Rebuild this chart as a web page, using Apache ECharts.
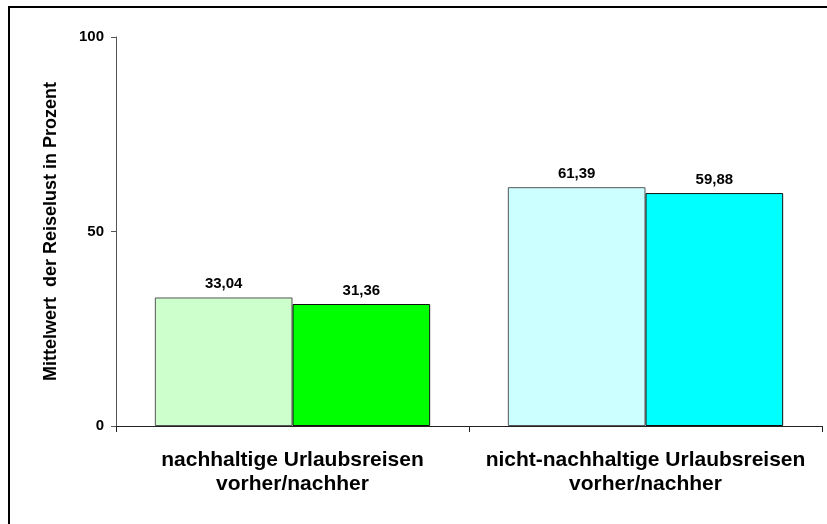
<!DOCTYPE html>
<html>
<head>
<meta charset="utf-8">
<script src="https://cdn.jsdelivr.net/npm/echarts@6/dist/echarts.min.js"></script>
<style>
html,body{margin:0;padding:0;background:#fff;}
#chart{width:827px;height:524px;}
</style>
</head>
<body>
<div id="chart"></div>
<script>
// Kategorien und Werte
var categories = ['nachhaltige Urlaubsreisen\nvorher/nachher', 'nicht-nachhaltige Urlaubsreisen\nvorher/nachher'];
var vorher = [33.04, 61.39];
var nachher = [31.36, 59.88];
var yTicks = [0, 50, 100];

var lightColors = ['#ccffcc', '#ccffff'];
var darkColors = ['#00ff00', '#00ffff'];

var chart = echarts.init(document.getElementById('chart'));

function fmt(p){
	return p.value.toFixed(2).replace('.', ',');
}

var labelStyle = {
	show: true,
	position: 'top',
	distance: 6,
	formatter: fmt,
	fontFamily: 'Liberation Sans',
	fontWeight: 'bold',
	fontSize: 15,
	color: '#000'
};

chart.setOption({
	animation: false,
	textStyle: {fontFamily: 'Liberation Sans'},
	graphic: [{
		type: 'rect',
		shape: {x: 9, y: 7, width: 900, height: 600},
		style: {fill: 'none', stroke: '#000', lineWidth: 2},
		silent: true
	}],
	grid: {left: 116, right: 5, top: 37, bottom: 98},
	xAxis: {
		type: 'category',
		data: categories,
		axisLine: {lineStyle: {color: '#222', width: 1}},
		axisTick: {show: true, interval: 0, length: 6, lineStyle: {color: '#222'}},
		axisLabel: {
			interval: 0,
			hideOverlap: false,
			color: '#000',
			fontWeight: 'bold',
			fontSize: 21,
			lineHeight: 24,
			margin: 22,
			fontFamily: 'Liberation Sans'
		}
	},
	yAxis: {
		type: 'value',
		min: 0,
		max: 100,
		interval: 50,
		name: 'Mittelwert  der Reiselust in Prozent',
		nameLocation: 'middle',
		nameGap: 56,
		nameTextStyle: {fontWeight: 'bold', fontSize: 18, color: '#000', fontFamily: 'Liberation Sans'},
		axisLine: {show: true, lineStyle: {color: '#555', width: 1}},
		axisTick: {show: true, length: 5, lineStyle: {color: '#555'}},
		axisLabel: {
			color: '#000',
			fontWeight: 'bold',
			fontSize: 15,
			margin: 12,
			fontFamily: 'Liberation Sans',
			formatter: function(v){ return yTicks.indexOf(v) >= 0 ? String(v) : ''; }
		},
		splitLine: {show: false}
	},
	series: [{
		name: 'vorher',
		type: 'bar',
		data: vorher.map(function(v, i){
			return {value: v, itemStyle: {color: lightColors[i]}};
		}),
		barGap: '0%',
		barCategoryGap: '22%',
		itemStyle: {borderColor: '#555', borderWidth: 1},
		label: labelStyle
	}, {
		name: 'nachher',
		type: 'bar',
		data: nachher.map(function(v, i){
			return {value: v, itemStyle: {color: darkColors[i]}};
		}),
		itemStyle: {borderColor: '#111', borderWidth: 1},
		label: labelStyle
	}]
});
</script>
</body>
</html>
